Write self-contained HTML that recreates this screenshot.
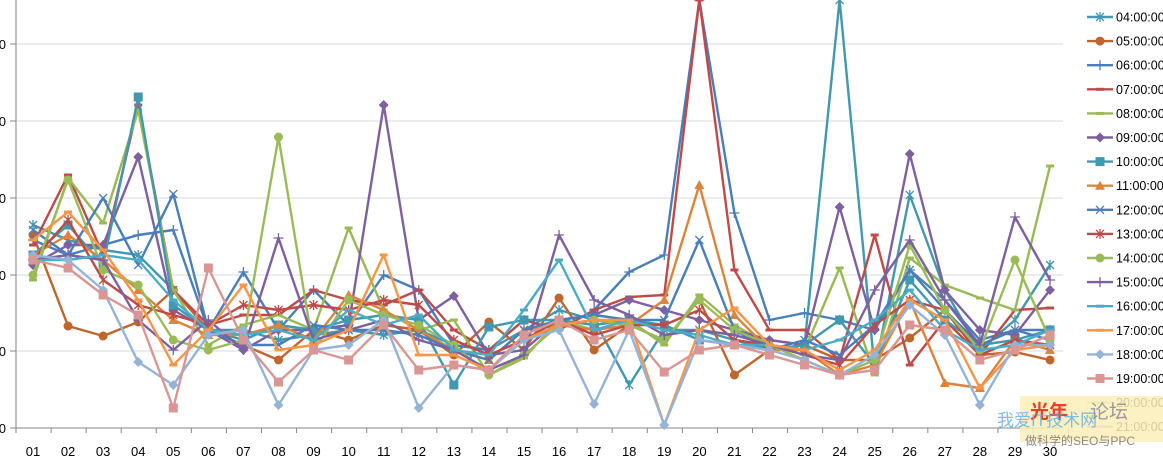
<!DOCTYPE html>
<html><head><meta charset="utf-8"><style>
html,body{margin:0;padding:0;background:#fff;width:1163px;height:456px;overflow:hidden}
svg{display:block}
text{font-family:"Liberation Sans","Noto Sans CJK SC",sans-serif}
</style></head><body>
<svg id="c" width="1163" height="456" xmlns="http://www.w3.org/2000/svg"></svg>
<script>
const S=[
["04:00:00","#4198AF","ast",[225,240,250,255,290,330,330,340,335,330,335,330,345,350,330,310,320,385,330,330,340,350,345,0,370,195,290,350,320,265]],
["05:00:00","#C0652B","circ",[235,326,336,322,290,330,345,360,330,340,325,330,355,322,350,298,350,325,340,300,375,350,345,360,360,338,310,355,352,360]],
["06:00:00","#4A7EBB","plus",[240,255,245,235,230,330,272,330,290,325,275,290,345,350,320,330,310,272,255,0,213,320,313,320,330,270,300,340,330,330]],
["07:00:00","#BE4B48","dash",[245,175,255,105,290,325,315,315,290,300,305,290,330,350,320,330,310,297,295,0,270,330,330,360,235,365,320,355,310,308]],
["08:00:00","#98B954","dash",[280,178,223,110,290,345,325,315,330,228,310,330,320,375,358,320,330,320,345,295,325,345,350,268,375,258,285,298,310,166]],
["09:00:00","#7D60A0","diam",[265,245,245,157,310,330,350,330,330,325,105,320,296,355,350,320,315,300,310,320,330,340,345,207,330,154,290,330,335,290]],
["10:00:00","#4198AF","sq",[255,225,265,97,305,330,340,325,330,320,315,320,385,327,320,320,325,320,325,340,345,350,345,320,365,280,320,345,340,330]],
["11:00:00","#DB843D","tri",[255,235,260,290,320,335,335,325,340,295,310,330,350,360,330,325,330,325,300,185,315,350,350,375,365,300,383,388,340,350]],
["12:00:00","#4A7EBB","x",[230,255,198,265,194,330,345,345,325,330,330,335,350,360,330,320,315,320,320,240,330,350,340,355,325,270,310,345,330,340]],
["13:00:00","#BE4B48","ast",[260,220,280,305,315,325,305,310,305,310,300,305,340,355,340,320,335,325,325,310,340,345,355,365,325,300,310,355,340,345]],
["14:00:00","#9BBB59","circ",[275,180,270,285,340,350,340,137,350,300,315,325,345,375,355,325,320,325,340,300,330,345,360,375,360,245,310,350,260,340]],
["15:00:00","#7D60A0","plus",[260,255,260,320,350,320,350,238,340,330,320,340,350,370,355,235,300,315,335,330,335,345,355,360,290,240,300,345,217,280]],
["16:00:00","#4BACC6","dash",[260,260,255,260,300,330,335,330,340,310,325,315,350,355,310,260,330,320,330,335,345,345,350,340,320,290,330,350,345,330]],
["17:00:00","#F79646","dash",[240,212,250,300,365,330,285,350,345,330,255,355,355,370,340,325,320,320,425,330,308,345,350,370,350,300,320,388,350,345]],
["18:00:00","#95B3D7","diam",[255,260,290,362,385,335,330,405,350,345,320,408,365,370,340,330,404,330,425,340,345,350,360,375,355,305,335,405,345,345]],
["19:00:00","#D99694","sq",[260,268,295,315,408,268,340,382,350,360,325,370,365,370,335,320,340,330,372,350,345,355,365,375,370,325,330,360,350,335]]
];
const NS="http://www.w3.org/2000/svg",svg=document.getElementById('c');
function el(t,a,p){const e=document.createElementNS(NS,t);for(const k in a)e.setAttribute(k,a[k]);(p||svg).appendChild(e);return e}
function X(i){return 33+i*35.07}
[44,121,198,275,351].forEach(y=>el('line',{x1:16,x2:1063,y1:y,y2:y,stroke:'#d9d9d9','stroke-width':1}));
el('line',{x1:16,x2:16,y1:0,y2:428,stroke:'#868686'});
el('line',{x1:10,x2:1063,y1:428,y2:428,stroke:'#868686'});
[44,121,198,275,351,428].forEach(y=>{el('line',{x1:10,x2:16,y1:y,y2:y,stroke:'#868686'});el('text',{x:6,y:y+5,'font-size':13,'text-anchor':'end',fill:'#000'}).textContent='0'});
for(let i=0;i<=30;i++){const x=16+i*35.07;el('line',{x1:x,x2:x,y1:428,y2:433,stroke:'#868686'});}
for(let i=0;i<30;i++)el('text',{x:X(i),y:456,'font-size':13,'text-anchor':'middle',fill:'#000'}).textContent=String(i+1).padStart(2,'0');
const g=el('g',{});
function marker(type,x,y,c,p){
 const s=4.5;
 if(type=='circ')el('circle',{cx:x,cy:y,r:4.5,fill:c},p);
 else if(type=='sq')el('rect',{x:x-4.5,y:y-4.5,width:9,height:9,fill:c},p);
 else if(type=='diam')el('polygon',{points:`${x},${y-5} ${x+5},${y} ${x},${y+5} ${x-5},${y}`,fill:c},p);
 else if(type=='tri')el('polygon',{points:`${x},${y-5} ${x+5},${y+4} ${x-5},${y+4}`,fill:c},p);
 else if(type=='plus'){el('path',{d:`M${x-5} ${y}H${x+5}M${x} ${y-5}V${y+5}`,stroke:c,'stroke-width':1.3},p)}
 else if(type=='x'){el('path',{d:`M${x-4} ${y-4}L${x+4} ${y+4}M${x+4} ${y-4}L${x-4} ${y+4}`,stroke:c,'stroke-width':1.3},p)}
 else if(type=='ast'){el('path',{d:`M${x-4} ${y-4}L${x+4} ${y+4}M${x+4} ${y-4}L${x-4} ${y+4}M${x} ${y-5}V${y+5}`,stroke:c,'stroke-width':1.3},p)}
 else if(type=='dash')el('path',{d:`M${x-4} ${y}H${x+4}`,stroke:c,'stroke-width':3},p);
}
S.forEach(s=>{
 el('polyline',{points:s[3].map((v,i)=>X(i)+','+v).join(' '),fill:'none',stroke:s[1],'stroke-width':2.4,'stroke-linejoin':'round'},g);
 s[3].forEach((v,i)=>marker(s[2],X(i),v,s[1],g));
});
// legend
const L=[...S.map(s=>[s[0],s[1],s[2]]),["20:00:00","#C3D69B","dash"],["21:00:00","#B2A1C7","dash"]];
L.forEach((l,i)=>{const y=17+i*24.1;
 el('line',{x1:1087,x2:1113,y1:y,y2:y,stroke:l[1],'stroke-width':2.4});
 marker(l[2],1100,y,l[1]);
 el('text',{x:1116,y:y+4.5,'font-size':12.5,fill:'#000'}).textContent=l[0];
});
// watermark
el('rect',{x:1020,y:396,width:143,height:46,fill:'#fbeeb8',opacity:0.85});
el('text',{x:1030,y:418,'font-size':19,fill:'#e8402a','font-weight':'bold'}).textContent='光年';
el('text',{x:1090,y:418,'font-size':19,fill:'#999'}).textContent='论坛';
el('text',{x:997,y:426,'font-size':17,fill:'#5aaee8',opacity:0.8}).textContent='我爱IT技术网';
el('text',{x:1025,y:445,'font-size':12,fill:'#888'}).textContent='做科学的SEO与PPC';
</script>
</body></html>
